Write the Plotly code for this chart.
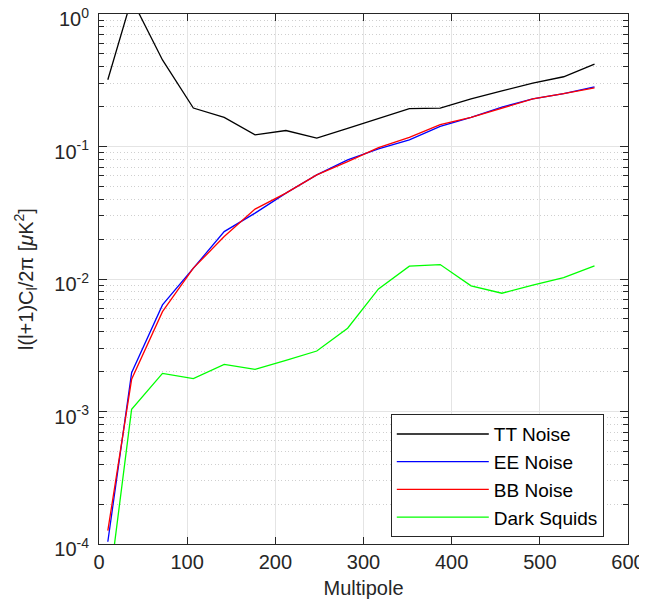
import plotly.graph_objects as go

multipole = [10, 37, 72, 107, 142, 177, 212, 247, 282, 317, 352, 387, 422, 457, 492, 527, 562]
tt_noise = [0.319, 1.30, 0.45, 0.195, 0.166, 0.1226, 0.132, 0.1157, 0.137, 0.163, 0.193, 0.195,
            0.229, 0.263, 0.301, 0.336, 0.419]
ee_noise = [1.04e-4, 0.00196, 0.00637, 0.01207, 0.0228, 0.0314, 0.0445, 0.0611, 0.0793, 0.0961,
            0.1124, 0.1416, 0.1656, 0.198, 0.229, 0.251, 0.282]
bb_noise = [1.26e-4, 0.00175, 0.00567, 0.01207, 0.0209, 0.0337, 0.0445, 0.0611, 0.077, 0.0982,
            0.117, 0.146, 0.1656, 0.195, 0.229, 0.251, 0.277]
dark_squids = [4.0e-5, 1.04e-3, 1.94e-3, 1.77e-3, 2.27e-3, 2.08e-3, 2.43e-3, 2.86e-3, 4.25e-3,
               8.41e-3, 0.0125, 0.01285, 8.87e-3, 7.81e-3, 8.98e-3, 0.01025, 0.01256]

series = [("TT Noise", tt_noise, "#000000"),
          ("EE Noise", ee_noise, "#0000ff"),
          ("BB Noise", bb_noise, "#ff0000"),
          ("Dark Squids", dark_squids, "#00ff00")]

y_major = [1e-4, 1e-3, 1e-2, 1e-1, 1e0]
y_major_text = ["10<sup>-4</sup>", "10<sup>-3</sup>", "10<sup>-2</sup>", "10<sup>-1</sup>", "10<sup>0</sup>"]
y_minor = [m * 10.0 ** e for e in range(-4, 0) for m in range(2, 10)]
x_ticks = [0, 100, 200, 300, 400, 500, 600]

fig = go.Figure()
for name, vals, col in series:
    fig.add_trace(go.Scatter(x=multipole, y=vals, mode="lines", name=name,
                             line=dict(color=col, width=1.3)))

axis_col = "#262626"
fam = "Liberation Sans, Arial, sans-serif"

# the page body adds an 8px offset, so the figure is 639x591 to fit the window
fig.update_layout(
    width=639, height=591,
    margin=dict(l=91, r=19, t=6, b=55),
    paper_bgcolor="white", plot_bgcolor="white",
    font=dict(family=fam, size=20, color=axis_col),
    showlegend=True,
    legend=dict(x=0.5516, y=0.129, xanchor="left", yanchor="middle",
                bordercolor=axis_col, borderwidth=1, bgcolor="white",
                font=dict(family=fam, size=19, color="#000000"),
                tracegroupgap=0, itemwidth=92),
)

fig.update_xaxes(
    range=[0, 600], tickvals=x_ticks, ticktext=[str(v) for v in x_ticks],
    ticks="inside", ticklen=7, tickcolor=axis_col, tickwidth=1,
    showline=True, linecolor=axis_col, linewidth=1, mirror="ticks",
    showgrid=True, gridcolor="#e4e4e4", gridwidth=1, zeroline=False,
    automargin=False, ticklabeloverflow="allow",
    title=dict(text="Multipole", font=dict(size=20)),
    tickfont=dict(size=20),
)
fig.update_yaxes(
    type="log", range=[-4, 0], tickvals=y_major, ticktext=y_major_text,
    ticks="inside", ticklen=8, tickcolor=axis_col, tickwidth=1,
    showline=True, linecolor=axis_col, linewidth=1, mirror="ticks",
    showgrid=True, gridcolor="#e4e4e4", gridwidth=1, zeroline=False,
    automargin=False, ticklabelstandoff=5, ticklabelshift=5,
    ticklabeloverflow="allow",
    minor=dict(tickvals=y_minor, ticks="inside", ticklen=5, tickcolor=axis_col,
               showgrid=True, gridcolor="#cfcfcf", griddash="1px,2.5px", gridwidth=1),
    title=dict(text="l(l+1)C<sub>l</sub>/2π [<i>μ</i>K<sup>2</sup>]", font=dict(size=20)),
    tickfont=dict(size=20),
)

fig.write_html("out.html")
